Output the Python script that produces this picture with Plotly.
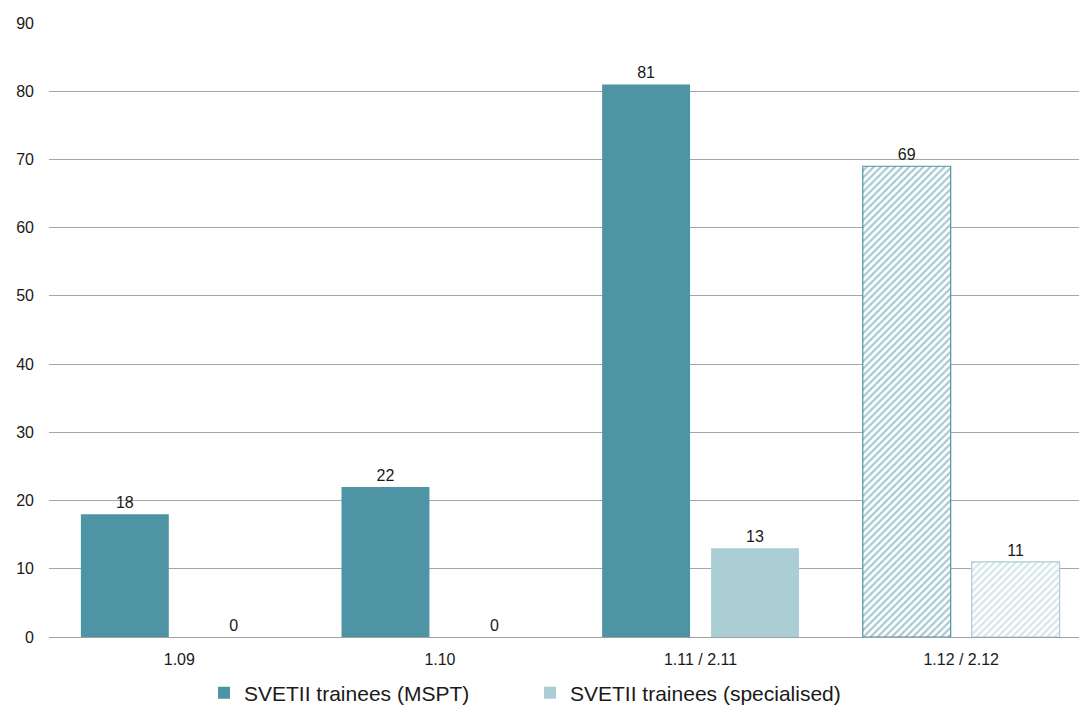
import plotly.graph_objects as go

categories = ["1.09", "1.10", "1.11 / 2.11", "1.12 / 2.12"]
mspt = [18, 22, 81, 69]
specialised = [0, 0, 13, 11]
series_names = ["SVETII trainees (MSPT)", "SVETII trainees (specialised)"]
y_ticks = [0, 10, 20, 30, 40, 50, 60, 70, 80, 90]

c1 = "#4E94A4"
c2 = "#ABCDD4"

L, R, T, B = 49, 0, 23, 70
W, H = 1079, 707

fig = go.Figure()
fig.add_trace(go.Bar(
    x=categories, y=mspt, name=series_names[0],
    text=mspt, textposition="outside", cliponaxis=False,
    textfont=dict(size=16, color="#1a1a1a"),
    marker=dict(
        color=c1,
        line=dict(color=c1, width=[0, 0, 0, 1.2]),
        pattern=dict(shape=["", "", "", "/"], fgcolor=c1, bgcolor="white",
                     size=5, solidity=0.45, fillmode="overlay"),
    ),
))
fig.add_trace(go.Bar(
    x=categories, y=specialised, name=series_names[1],
    text=specialised, textposition="outside", cliponaxis=False,
    textfont=dict(size=16, color="#1a1a1a"),
    marker=dict(
        color=c2,
        line=dict(color=c2, width=[0, 0, 0, 1.2]),
        pattern=dict(shape=["", "", "", "/"], fgcolor=c2, bgcolor="white",
                     size=5, solidity=0.45, fillmode="overlay"),
    ),
))

fig.update_layout(
    width=W, height=H,
    margin=dict(l=L, r=R, t=T, b=B, autoexpand=False),
    paper_bgcolor="white", plot_bgcolor="white",
    font=dict(family="Liberation Sans, Arial, sans-serif", size=16, color="#1a1a1a"),
    barmode="group", bargap=0.164, bargroupgap=0.193,
    showlegend=True,
    legend=dict(orientation="h", x=(204 - L) / (W - L - R), xanchor="left",
                y=-0.058, yanchor="top",
                font=dict(size=21, color="#1a1a1a"), itemwidth=30,
                entrywidth=281, entrywidthmode="pixels"),
    xaxis=dict(showgrid=False, showline=True, linecolor="#A0A0A0", linewidth=1,
               ticks="", tickfont=dict(size=16), range=[-0.5, 3.452],
               ticklabelstandoff=8),
    yaxis=dict(range=[0, 90], tickvals=y_ticks, showgrid=True, gridcolor="#A6A6A6",
               gridwidth=1, zeroline=False, showline=False, ticks="",
               ticklabelstandoff=14, tickfont=dict(size=16)),
)

fig.write_html("out.html", config={"displayModeBar": False},
               post_script="document.body.style.margin='0';document.body.style.overflow='hidden';")
